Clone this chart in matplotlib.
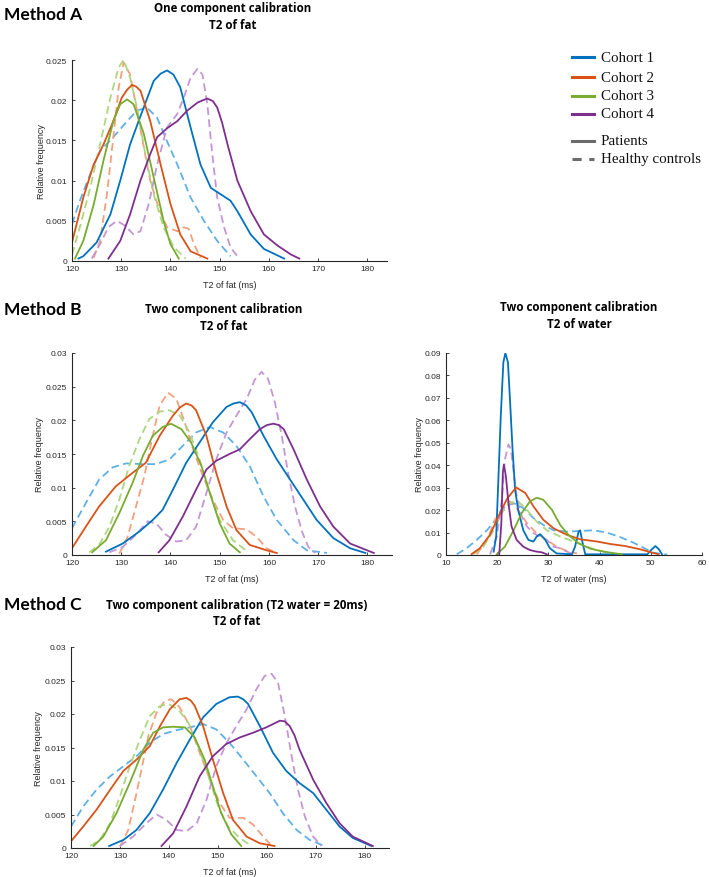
import matplotlib.pyplot as plt
from matplotlib.lines import Line2D

cohorts = ["Cohort 1", "Cohort 2", "Cohort 3", "Cohort 4"]
groups = ["Patients", "Healthy controls"]
colors = ["#0072BD", "#D95319", "#77AC30", "#7E2F8E"]
light = ["#5FB0E6", "#F2A07E", "#AED67F", "#C596D6"]

# ---- Method A: one component calibration, T2 of fat ----
a_pat_x = [
    [121.3, 122.3, 125.0, 127.8, 129.8, 131.8, 133.9, 136.6, 138.0, 139.3, 140.6, 142.0, 144.1, 146.1, 148.2, 150.2, 152.2, 153.6, 156.3, 159.0, 163.1],
    [120.0, 122.3, 124.4, 126.4, 128.4, 130.1, 131.2, 132.2, 133.0, 133.9, 135.9, 138.0, 140.0, 142.0, 144.1, 147.5],
    [120.6, 122.3, 124.4, 126.4, 128.4, 129.8, 131.2, 132.5, 134.6, 136.6, 138.6, 140.0, 141.7],
    [127.4, 129.8, 131.8, 133.9, 135.9, 137.3, 139.3, 141.4, 143.4, 145.5, 146.6, 147.5, 148.6, 149.5, 150.5, 151.6, 153.6, 156.3, 159.0, 161.8, 164.5, 166.2],
]
a_pat_y = [
    [0.0003, 0.0006, 0.0023, 0.0058, 0.0100, 0.0145, 0.0180, 0.0224, 0.0233, 0.0237, 0.0232, 0.0216, 0.0166, 0.0120, 0.0091, 0.0083, 0.0075, 0.0062, 0.0033, 0.0015, 0.0003],
    [0.0023, 0.0079, 0.0120, 0.0145, 0.0174, 0.0203, 0.0213, 0.0219, 0.0217, 0.0212, 0.0174, 0.0120, 0.0071, 0.0033, 0.0012, 0.0003],
    [0.0003, 0.0025, 0.0070, 0.0125, 0.0174, 0.0195, 0.0201, 0.0195, 0.0158, 0.0104, 0.0050, 0.0021, 0.0003],
    [0.0003, 0.0025, 0.0058, 0.0100, 0.0133, 0.0154, 0.0165, 0.0174, 0.0187, 0.0197, 0.0200, 0.0202, 0.0199, 0.0191, 0.0172, 0.0145, 0.0100, 0.0062, 0.0033, 0.0019, 0.0008, 0.0003],
]
a_hc_x = [
    [120.0, 121.6, 123.7, 125.7, 128.4, 131.2, 133.2, 135.2, 137.3, 139.3, 141.4, 144.1, 146.8, 149.5, 152.2],
    [124.4, 125.7, 127.1, 128.4, 129.5, 130.5, 131.8, 133.2, 134.6, 135.9, 137.6, 139.3, 141.4, 142.7, 143.7, 144.8, 146.1],
    [120.0, 121.6, 123.7, 125.7, 127.8, 129.5, 130.5, 131.8, 133.2, 134.9, 136.6, 138.6, 140.7, 143.1],
    [124.0, 125.7, 127.4, 129.1, 130.8, 132.5, 133.9, 135.6, 137.3, 139.3, 141.4, 142.7, 144.1, 145.5, 146.5, 147.5, 148.5, 149.5, 150.9, 152.2, 153.6],
]
a_hc_y = [
    [0.0046, 0.0075, 0.0108, 0.0137, 0.0154, 0.0174, 0.0187, 0.0191, 0.0178, 0.0149, 0.0120, 0.0079, 0.0050, 0.0025, 0.0006],
    [0.0004, 0.0025, 0.0083, 0.0154, 0.0216, 0.0247, 0.0232, 0.0187, 0.0141, 0.0100, 0.0066, 0.0042, 0.0037, 0.0042, 0.0040, 0.0021, 0.0004],
    [0.0008, 0.0042, 0.0091, 0.0145, 0.0203, 0.0241, 0.0250, 0.0228, 0.0191, 0.0133, 0.0083, 0.0042, 0.0017, 0.0003],
    [0.0003, 0.0021, 0.0042, 0.0050, 0.0044, 0.0033, 0.0037, 0.0071, 0.0120, 0.0166, 0.0183, 0.0203, 0.0228, 0.0239, 0.0232, 0.0195, 0.0133, 0.0079, 0.0042, 0.0017, 0.0006],
]

# ---- Method B: two component calibration, T2 of fat ----
b_pat_x = [
    [126.9, 130.3, 133.7, 136.4, 138.4, 140.5, 143.2, 145.9, 148.6, 151.4, 152.8, 154.1, 155.4, 156.5, 158.9, 161.6, 164.3, 167.0, 169.7, 173.1, 176.5, 179.6],
    [120.0, 122.8, 125.5, 128.9, 132.3, 135.0, 137.8, 140.5, 141.9, 143.2, 144.3, 145.2, 147.3, 149.3, 151.4, 153.4, 156.1, 159.5, 161.6],
    [124.1, 126.9, 129.6, 132.3, 134.4, 136.4, 138.4, 140.1, 142.2, 144.2, 146.3, 148.0, 150.0, 152.0, 154.1],
    [137.6, 139.8, 142.5, 145.2, 147.3, 149.3, 152.0, 154.1, 156.1, 158.2, 159.6, 160.9, 162.0, 163.0, 165.0, 167.7, 170.4, 173.1, 176.5, 181.3],
]
b_pat_y = [
    [0.0005, 0.0017, 0.0035, 0.0052, 0.0067, 0.0097, 0.0137, 0.0167, 0.0197, 0.0220, 0.0225, 0.0227, 0.0222, 0.0212, 0.0177, 0.0142, 0.0112, 0.0082, 0.0052, 0.0025, 0.0010, 0.0003],
    [0.0010, 0.0042, 0.0072, 0.0102, 0.0122, 0.0137, 0.0177, 0.0207, 0.0219, 0.0225, 0.0222, 0.0215, 0.0177, 0.0122, 0.0072, 0.0037, 0.0015, 0.0007, 0.0003],
    [0.0004, 0.0022, 0.0062, 0.0107, 0.0147, 0.0177, 0.0190, 0.0195, 0.0187, 0.0167, 0.0132, 0.0092, 0.0047, 0.0017, 0.0004],
    [0.0004, 0.0022, 0.0057, 0.0097, 0.0127, 0.0140, 0.0150, 0.0157, 0.0172, 0.0187, 0.0193, 0.0195, 0.0193, 0.0187, 0.0157, 0.0112, 0.0072, 0.0042, 0.0017, 0.0003],
]
b_hc_x = [
    [120.0, 122.8, 125.5, 128.2, 131.0, 134.4, 137.1, 139.8, 142.5, 145.2, 148.0, 150.7, 153.4, 156.1, 158.9, 161.6, 165.0, 167.7, 171.8],
    [129.6, 131.3, 133.0, 134.7, 136.1, 137.8, 139.5, 141.2, 142.9, 144.6, 146.6, 148.6, 150.7, 152.7, 155.5, 157.5, 159.5, 161.6],
    [123.5, 125.5, 127.6, 129.6, 131.6, 133.7, 135.7, 137.8, 139.8, 141.9, 143.9, 145.9, 148.0, 150.0, 152.7, 155.8],
    [127.6, 130.3, 133.0, 135.4, 137.1, 139.1, 141.2, 143.2, 145.2, 147.3, 149.3, 151.4, 153.4, 155.5, 157.1, 158.5, 159.8, 161.2, 162.6, 163.9, 165.3, 166.7, 168.0, 169.4],
]
b_hc_y = [
    [0.0040, 0.0077, 0.0112, 0.0130, 0.0136, 0.0135, 0.0135, 0.0142, 0.0162, 0.0182, 0.0190, 0.0182, 0.0162, 0.0132, 0.0087, 0.0052, 0.0022, 0.0007, 0.0003],
    [0.0002, 0.0027, 0.0072, 0.0117, 0.0167, 0.0222, 0.0241, 0.0232, 0.0197, 0.0157, 0.0117, 0.0082, 0.0052, 0.0040, 0.0038, 0.0027, 0.0010, 0.0003],
    [0.0004, 0.0015, 0.0042, 0.0082, 0.0132, 0.0172, 0.0202, 0.0213, 0.0215, 0.0207, 0.0182, 0.0142, 0.0092, 0.0052, 0.0022, 0.0004],
    [0.0004, 0.0012, 0.0030, 0.0050, 0.0047, 0.0030, 0.0020, 0.0022, 0.0042, 0.0092, 0.0142, 0.0182, 0.0207, 0.0232, 0.0260, 0.0272, 0.0262, 0.0227, 0.0177, 0.0122, 0.0072, 0.0035, 0.0012, 0.0003],
]

# ---- Method B: two component calibration, T2 of water ----
w_pat_x = [
    [19.3, 19.8, 20.2, 20.7, 21.2, 21.6, 22.1, 22.5, 23.0, 23.5, 24.1, 25.1, 26.1, 27.1, 27.7, 28.4, 29.4, 30.3, 31.6, 34.6, 35.2, 35.9, 36.2, 36.7, 37.2, 49.3, 50.2, 50.9, 51.6, 52.2],
    [15.0, 16.6, 18.6, 20.2, 21.9, 23.7, 25.5, 27.1, 29.0, 31.0, 33.6, 36.2, 39.5, 42.1, 45.0, 48.0, 50.0, 51.5],
    [19.9, 21.5, 23.2, 24.8, 26.4, 27.7, 29.0, 30.7, 32.3, 33.9, 35.9, 38.2, 40.8, 44.4],
    [20.4, 20.8, 21.1, 21.3, 21.7, 22.2, 22.8, 23.8, 25.1, 26.4, 27.7, 28.7, 29.7],
]
w_pat_y = [
    [0.0015, 0.0082, 0.032, 0.062, 0.0858, 0.090, 0.0858, 0.069, 0.047, 0.029, 0.020, 0.011, 0.0067, 0.006, 0.0082, 0.0093, 0.0067, 0.003, 0.0007, 0.0003, 0.0037, 0.0104, 0.011, 0.0052, 0.0003, 0.0003, 0.0025, 0.0040, 0.0025, 0.0003],
    [0.0004, 0.003, 0.009, 0.017, 0.025, 0.0301, 0.0276, 0.0216, 0.0157, 0.0119, 0.009, 0.007, 0.006, 0.0049, 0.004, 0.0025, 0.0012, 0.0003],
    [0.0003, 0.0037, 0.011, 0.0187, 0.0239, 0.0255, 0.0246, 0.0201, 0.0134, 0.009, 0.0052, 0.0028, 0.0015, 0.0003],
    [0.0003, 0.014, 0.0366, 0.0403, 0.035, 0.0231, 0.0127, 0.0067, 0.0037, 0.0022, 0.0015, 0.0012, 0.0003],
]
w_hc_x = [
    [12.1, 14.0, 16.0, 18.0, 19.9, 21.5, 23.2, 25.1, 27.1, 29.0, 31.0, 33.6, 36.2, 38.8, 41.4, 44.0, 46.6, 50.5, 53.2],
    [16.0, 18.0, 19.6, 21.2, 22.5, 24.1, 25.8, 27.7, 29.7, 31.6, 33.6, 35.6],
    [15.3, 17.3, 19.3, 20.9, 22.5, 24.1, 25.8, 27.7, 29.7, 32.3, 34.9, 37.5, 39.5, 43.0],
    [18.6, 19.9, 20.9, 21.5, 22.2, 22.7, 23.3, 23.9, 24.8, 25.8, 27.1, 28.4, 29.7, 31.0, 32.3, 33.6, 34.9],
]
w_hc_y = [
    [0.0003, 0.003, 0.0067, 0.011, 0.0164, 0.0216, 0.0231, 0.0209, 0.0164, 0.0134, 0.011, 0.0104, 0.0107, 0.011, 0.010, 0.008, 0.0055, 0.001, 0.0002],
    [0.0003, 0.0067, 0.0157, 0.0216, 0.0239, 0.0201, 0.0142, 0.0097, 0.0067, 0.0037, 0.0018, 0.0007],
    [0.0003, 0.0037, 0.011, 0.0187, 0.0234, 0.0239, 0.0201, 0.0149, 0.011, 0.0082, 0.006, 0.0037, 0.0022, 0.0003],
    [0.0003, 0.0082, 0.0246, 0.0425, 0.0493, 0.047, 0.035, 0.0246, 0.0172, 0.0127, 0.0097, 0.0082, 0.0067, 0.0037, 0.003, 0.0015, 0.0003],
]

# ---- Method C: two component calibration (T2 water = 20ms), T2 of fat ----
c_pat_x = [
    [127.8, 130.7, 133.4, 136.1, 138.8, 141.6, 144.3, 147.0, 149.7, 152.4, 154.1, 155.2, 156.2, 158.6, 161.3, 164.0, 166.7, 169.5, 172.2, 174.9, 177.6, 181.4],
    [120.0, 122.5, 125.2, 128.0, 130.7, 133.4, 136.1, 138.2, 140.2, 142.2, 143.6, 144.5, 145.3, 147.0, 149.0, 151.1, 153.1, 155.9, 158.6, 161.6],
    [124.6, 126.6, 129.3, 132.0, 134.8, 136.8, 138.8, 140.9, 143.3, 145.3, 147.3, 149.0, 150.7, 152.8, 154.8],
    [138.5, 140.9, 143.6, 146.3, 149.0, 151.7, 154.5, 157.2, 159.9, 162.7, 163.7, 164.7, 165.7, 166.7, 169.5, 172.2, 174.9, 177.6, 181.7],
]
c_pat_y = [
    [0.0003, 0.0012, 0.0027, 0.0052, 0.0087, 0.0127, 0.0162, 0.0195, 0.0215, 0.0225, 0.0226, 0.0222, 0.0215, 0.0182, 0.0142, 0.0115, 0.0097, 0.0082, 0.0057, 0.0032, 0.0015, 0.0003],
    [0.001, 0.0032, 0.0057, 0.0087, 0.0115, 0.0132, 0.0152, 0.0182, 0.0207, 0.0222, 0.0224, 0.0220, 0.0212, 0.0182, 0.0132, 0.0082, 0.0042, 0.0017, 0.0007, 0.0003],
    [0.0003, 0.0017, 0.0052, 0.0097, 0.0147, 0.0172, 0.018, 0.0181, 0.018, 0.0165, 0.0132, 0.0092, 0.0052, 0.002, 0.0003],
    [0.0003, 0.0022, 0.0062, 0.0107, 0.0137, 0.0155, 0.0165, 0.0172, 0.018, 0.019, 0.0189, 0.0182, 0.0168, 0.0147, 0.0102, 0.0067, 0.0037, 0.0017, 0.0003],
]
c_hc_x = [
    [120.0, 122.5, 125.2, 128.0, 130.7, 133.4, 136.1, 138.8, 141.6, 144.3, 147.0, 149.7, 152.4, 155.2, 157.9, 160.6, 163.3, 166.1, 168.8, 171.8],
    [130.0, 131.7, 133.1, 134.4, 135.8, 137.5, 139.2, 140.5, 142.2, 144.3, 146.3, 148.4, 150.4, 152.4, 155.2, 157.2, 159.3, 161.0],
    [123.9, 125.9, 128.0, 130.0, 132.0, 134.1, 136.1, 138.2, 139.9, 141.9, 144.0, 146.0, 148.1, 150.1, 152.1, 154.5, 156.9],
    [130.0, 132.7, 135.4, 137.5, 139.5, 141.6, 143.6, 145.7, 147.7, 149.7, 151.8, 153.8, 155.9, 157.9, 159.6, 161.0, 162.3, 163.7, 165.1, 166.4, 167.8, 169.5, 171.2],
]
c_hc_y = [
    [0.0032, 0.0062, 0.0087, 0.0107, 0.0122, 0.0137, 0.0157, 0.017, 0.0176, 0.018, 0.0185, 0.0177, 0.0157, 0.0132, 0.0107, 0.0082, 0.0052, 0.0027, 0.0012, 0.0003],
    [0.0002, 0.0027, 0.0072, 0.0117, 0.0167, 0.0202, 0.022, 0.0222, 0.021, 0.0182, 0.0142, 0.0102, 0.0067, 0.0045, 0.0045, 0.0035, 0.0017, 0.0003],
    [0.0003, 0.0012, 0.0037, 0.0077, 0.0122, 0.0162, 0.0197, 0.0212, 0.0215, 0.0207, 0.0187, 0.0152, 0.0107, 0.0062, 0.0032, 0.0015, 0.0003],
    [0.0003, 0.0017, 0.0037, 0.005, 0.0042, 0.0027, 0.0025, 0.0037, 0.0072, 0.0122, 0.0157, 0.0182, 0.0207, 0.0237, 0.0257, 0.026, 0.0247, 0.0197, 0.0137, 0.0087, 0.0047, 0.0017, 0.0003],
]

fat_ticks = [120, 130, 140, 150, 160, 170, 180]
water_ticks = [10, 20, 30, 40, 50, 60]
a_yticks = [0, 0.005, 0.01, 0.015, 0.02, 0.025]
b_yticks = [0, 0.005, 0.01, 0.015, 0.02, 0.025, 0.03]
w_yticks = [0, 0.01, 0.02, 0.03, 0.04, 0.05, 0.06, 0.07, 0.08, 0.09]

W, H = 709, 878
AXC = "#262626"


def draw_panel(fig, box, pat_x, pat_y, hc_x, hc_y, xlim, ylim, xticks, yticks, xlabel, ylab_x):
    left, top, right, bottom = box
    ax = fig.add_axes([left / W, 1 - bottom / H, (right - left) / W, (bottom - top) / H])
    for i in range(4):
        ax.plot(hc_x[i], hc_y[i], color=light[i], lw=1.3, dashes=(4.3, 2.4),
                dash_joinstyle="round")
    for i in range(4):
        ax.plot(pat_x[i], pat_y[i], color=colors[i], lw=1.3, solid_joinstyle="round")
    ax.set_xlim(xlim)
    ax.set_ylim(ylim)
    ax.set_xticks(xticks)
    ax.set_yticks(yticks)
    ax.set_yticklabels(["%g" % v for v in yticks])
    for s in ["top", "right"]:
        ax.spines[s].set_visible(False)
    for s in ["left", "bottom"]:
        ax.spines[s].set_color(AXC)
        ax.spines[s].set_linewidth(0.8)
    ax.tick_params(direction="in", length=2.5, width=0.6, labelsize=6, colors=AXC)
    ax.tick_params(axis="x", pad=2.6)
    ax.tick_params(axis="y", pad=3.5)
    ax.set_xlabel(xlabel, fontsize=6.5, color=AXC)
    ax.set_ylabel("Relative frequency", fontsize=6.5, color=AXC)
    ax.xaxis.set_label_coords(0.5, -0.095)
    ax.yaxis.set_label_coords((ylab_x - left) / (right - left), 0.5)
    return ax


def title(fig, x, y, lines):
    for k, t in enumerate(lines):
        fig.text(x / W, 1 - (y + 17 * k) / H, t, ha="center", va="center",
                 fontsize=8.3, fontweight="bold", family="Open Sans")


def method_label(fig, y, t):
    fig.text(4 / W, 1 - y / H, t, ha="left", va="center", fontsize=12.5,
             fontweight="bold", family="Lato")


def main():
    plt.rcParams["font.family"] = ["Liberation Sans", "DejaVu Sans"]
    fig = plt.figure(figsize=(W / 100, H / 100), dpi=100)

    draw_panel(fig, (72, 61, 387, 262), a_pat_x, a_pat_y, a_hc_x, a_hc_y,
               (120, 184), (0, 0.025), fat_ticks, a_yticks, "T2 of fat (ms)", 46)
    draw_panel(fig, (72, 354, 392, 556), b_pat_x, b_pat_y, b_hc_x, b_hc_y,
               (120, 185), (0, 0.03), fat_ticks, b_yticks, "T2 of fat (ms)", 44)
    draw_panel(fig, (446, 354, 702, 556), w_pat_x, w_pat_y, w_hc_x, w_hc_y,
               (10, 60), (0, 0.09), water_ticks, w_yticks, "T2 of water (ms)", 424)
    draw_panel(fig, (71, 648, 389, 849), c_pat_x, c_pat_y, c_hc_x, c_hc_y,
               (120, 185), (0, 0.03), fat_ticks, b_yticks, "T2 of fat (ms)", 43)

    method_label(fig, 15, "Method A")
    method_label(fig, 310, "Method B")
    method_label(fig, 605, "Method C")
    title(fig, 233, 8.5, ["One component calibration", "T2 of fat"])
    title(fig, 224, 310, ["Two component calibration", "T2 of fat"])
    title(fig, 579, 308, ["Two component calibration", "T2 of water"])
    title(fig, 237, 605, ["Two component calibration (T2 water = 20ms)", "T2 of fat"])

    # legend drawn by hand in figure coordinates
    rows = [58, 78, 97, 115]
    for i, name in enumerate(cohorts):
        y = 1 - rows[i] / H
        fig.add_artist(Line2D([572 / W, 594 / W], [y, y], color=colors[i], lw=2.2))
        fig.text(601 / W, y, name, va="center", ha="left", fontsize=10.8,
                 family="Liberation Serif", color="#111111")
    for k, (name, ls) in enumerate(zip(groups, ["-", "--"])):
        y = 1 - [142, 160][k] / H
        ln = Line2D([572 / W, 594 / W], [y, y], color="#6b6b6b", lw=2.2)
        if ls == "--":
            ln.set_dashes((3.0, 2.5))
        fig.add_artist(ln)
        fig.text(601 / W, y, name, va="center", ha="left", fontsize=10.8,
                 family="Liberation Serif", color="#111111")

    fig.savefig("out.png", dpi=100)


if __name__ == "__main__":
    main()
